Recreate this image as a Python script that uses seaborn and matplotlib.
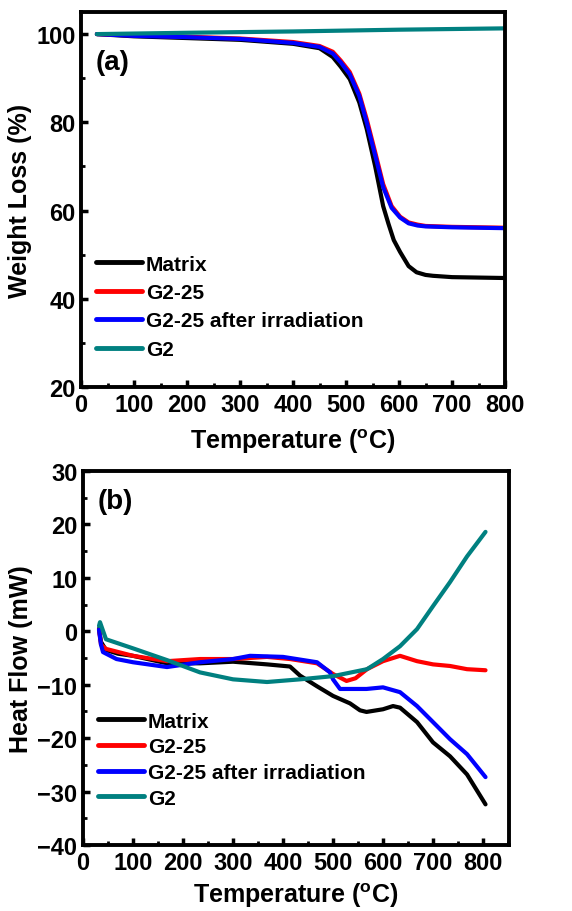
"""TGA / DSC curves of the matrix and G2 samples, two stacked panels."""

import matplotlib

matplotlib.use("Agg")
import matplotlib.pyplot as plt
from matplotlib.ticker import MultipleLocator
import pandas as pd
import seaborn as sns

# ---- data ------------------------------------------------------------------
series = ["Matrix", "G2-25", "G2-25 after irradiation", "G2"]
colors = ["#000000", "#ff0000", "#0000ff", "#008080"]

# (a) weight loss, %
tga_matrix_t = [30, 100, 200, 300, 400, 450, 475, 490, 507, 525, 539, 555, 570,
                580, 590, 602, 618, 633, 650, 664, 700, 750, 800]
tga_matrix_w = [100.0, 99.5, 99.1, 98.7, 97.8, 96.8, 94.8, 92.6, 89.8, 84.5, 78.5,
                70.0, 61.0, 57.0, 53.3, 50.6, 47.4, 46.0, 45.4, 45.2, 44.9, 44.8, 44.7]
tga_g225_t = [30, 100, 200, 300, 400, 450, 475, 490, 507, 525, 539, 555, 570,
              586, 602, 618, 635, 650, 700, 750, 800]
tga_g225_w = [100.0, 99.7, 99.4, 99.0, 98.2, 97.3, 96.0, 94.0, 91.4, 86.5, 80.7,
              73.2, 66.0, 61.0, 58.6, 57.3, 56.8, 56.5, 56.3, 56.2, 56.1]
tga_g225irr_t = tga_g225_t
tga_g225irr_w = [100.0, 99.6, 99.3, 98.9, 98.0, 97.1, 95.6, 93.6, 90.9, 86.0, 80.0,
                 72.5, 65.3, 60.6, 58.4, 57.1, 56.6, 56.4, 56.2, 56.1, 56.0]
tga_g2_t = [30, 200, 400, 600, 800]
tga_g2_w = [100.0, 100.3, 100.6, 101.0, 101.3]

# (b) heat flow, mW
dsc_matrix_t = [32, 36, 46, 70, 100, 168, 234, 300, 368, 414, 434, 468, 500, 534,
                554, 567, 600, 620, 634, 668, 700, 734, 768, 805]
dsc_matrix_h = [0.5, -2.0, -3.5, -4.2, -4.6, -6.0, -6.0, -5.7, -6.2, -6.6, -8.3,
                -10.3, -12.1, -13.5, -14.8, -15.1, -14.6, -14.0, -14.3, -17.0,
                -20.8, -23.4, -26.8, -32.4]
dsc_g225_t = [32, 36, 46, 100, 168, 234, 300, 368, 414, 468, 500, 527, 545, 568,
              600, 634, 668, 700, 734, 768, 805]
dsc_g225_h = [0.3, -2.5, -3.3, -4.6, -5.6, -5.2, -5.2, -4.8, -5.2, -6.0, -8.0,
              -9.3, -8.8, -7.1, -5.6, -4.6, -5.6, -6.2, -6.5, -7.1, -7.3]
dsc_g225irr_t = [32, 36, 40, 67, 100, 168, 234, 300, 334, 400, 468, 494, 500, 514,
                 567, 600, 634, 668, 700, 734, 768, 805]
dsc_g225irr_h = [0.3, -2.5, -3.9, -5.2, -5.8, -6.7, -5.8, -5.2, -4.6, -4.8, -5.8,
                 -7.7, -9.0, -10.8, -10.8, -10.5, -11.4, -14.0, -17.0, -20.2,
                 -23.0, -27.3]
dsc_g2_t = [32, 34, 46, 100, 168, 234, 300, 368, 434, 500, 568, 600, 634, 668,
            700, 734, 768, 805]
dsc_g2_h = [1.0, 1.7, -1.5, -3.2, -5.4, -7.7, -9.0, -9.5, -9.0, -8.4, -7.1, -5.2,
            -2.8, 0.4, 4.7, 9.2, 14.0, 18.6]


def long_frame(pairs, value_name):
    parts = []
    for name, (t, v) in zip(series, pairs):
        parts.append(pd.DataFrame({"T": t, value_name: v, "sample": name}))
    return pd.concat(parts, ignore_index=True)


tga = long_frame([(tga_matrix_t, tga_matrix_w), (tga_g225_t, tga_g225_w),
                  (tga_g225irr_t, tga_g225irr_w), (tga_g2_t, tga_g2_w)], "W")
dsc = long_frame([(dsc_matrix_t, dsc_matrix_h), (dsc_g225_t, dsc_g225_h),
                  (dsc_g225irr_t, dsc_g225irr_h), (dsc_g2_t, dsc_g2_h)], "H")

# ---- style -----------------------------------------------------------------
sns.set_style("ticks")
plt.rcParams["font.family"] = ["Liberation Sans", "DejaVu Sans"]
plt.rcParams["font.weight"] = "bold"
plt.rcParams["mathtext.fontset"] = "custom"
plt.rcParams["mathtext.rm"] = "Liberation Sans:bold"
plt.rcParams["mathtext.bf"] = "Liberation Sans:bold"
plt.rcParams["xtick.direction"] = "in"
plt.rcParams["ytick.direction"] = "in"
for key in ["text.color", "axes.labelcolor", "axes.edgecolor",
            "xtick.color", "ytick.color"]:
    plt.rcParams[key] = "black"

palette = dict(zip(series, colors))
fig = plt.figure(figsize=(5.72, 9.12), dpi=100)
ax_a = fig.add_axes([0.1416, 0.5746, 0.7414, 0.4111])
ax_b = fig.add_axes([0.1451, 0.0724, 0.7448, 0.4101])

sns.lineplot(data=tga, x="T", y="W", hue="sample", palette=palette,
             hue_order=series, sort=False, estimator=None, lw=3.0, ax=ax_a)
sns.lineplot(data=dsc, x="T", y="H", hue="sample", palette=palette,
             hue_order=series, sort=False, estimator=None, lw=3.0, ax=ax_b)

ax_a.set_xlim(0, 800)
ax_a.set_ylim(20, 105)
ax_a.xaxis.set_major_locator(MultipleLocator(100))
ax_a.xaxis.set_minor_locator(MultipleLocator(50))
ax_a.yaxis.set_major_locator(MultipleLocator(20))
ax_a.yaxis.set_minor_locator(MultipleLocator(10))
ax_a.set_ylabel("Weight Loss (%)", fontsize=18, fontweight="bold", labelpad=3)

ax_b.set_xlim(0, 852)
ax_b.set_ylim(-40, 30)
ax_b.xaxis.set_major_locator(MultipleLocator(100))
ax_b.xaxis.set_minor_locator(MultipleLocator(50))
ax_b.yaxis.set_major_locator(MultipleLocator(10))
ax_b.yaxis.set_minor_locator(MultipleLocator(5))
ax_b.set_ylabel("Heat Flow (mW)", fontsize=18, fontweight="bold", labelpad=3)

for ax, tag, ty, leg_y, spacing, xpad in [(ax_a, "(a)", 0.867, 0.075, 0.45, 8),
                                           (ax_b, "(b)", 0.92, 0.1, 0.32, 5)]:
    ax.set_xlabel(r"Temperature ($\mathregular{^{o}}$C)", fontsize=18,
                  fontweight="bold", labelpad=xpad)
    for side in ax.spines.values():
        side.set_linewidth(2.8)
    ax.tick_params(which="major", length=5, width=2.5, labelsize=17, pad=4)
    ax.tick_params(which="minor", length=3, width=2.0)
    for lab in ax.get_xticklabels() + ax.get_yticklabels():
        lab.set_fontweight("bold")
    ax.text(0.035, ty, tag, transform=ax.transAxes, fontsize=20,
            fontweight="bold", ha="left", va="center")
    leg = ax.legend(loc="lower left", bbox_to_anchor=(0.035, leg_y), frameon=False,
                    fontsize=15, handlelength=2.2, handletextpad=0.2,
                    labelspacing=spacing, borderaxespad=0, borderpad=0)
    for line in leg.get_lines():
        line.set_linewidth(3.5)
    for txt in leg.get_texts():
        txt.set_fontweight("bold")

fig.savefig("out.png", dpi=100)
